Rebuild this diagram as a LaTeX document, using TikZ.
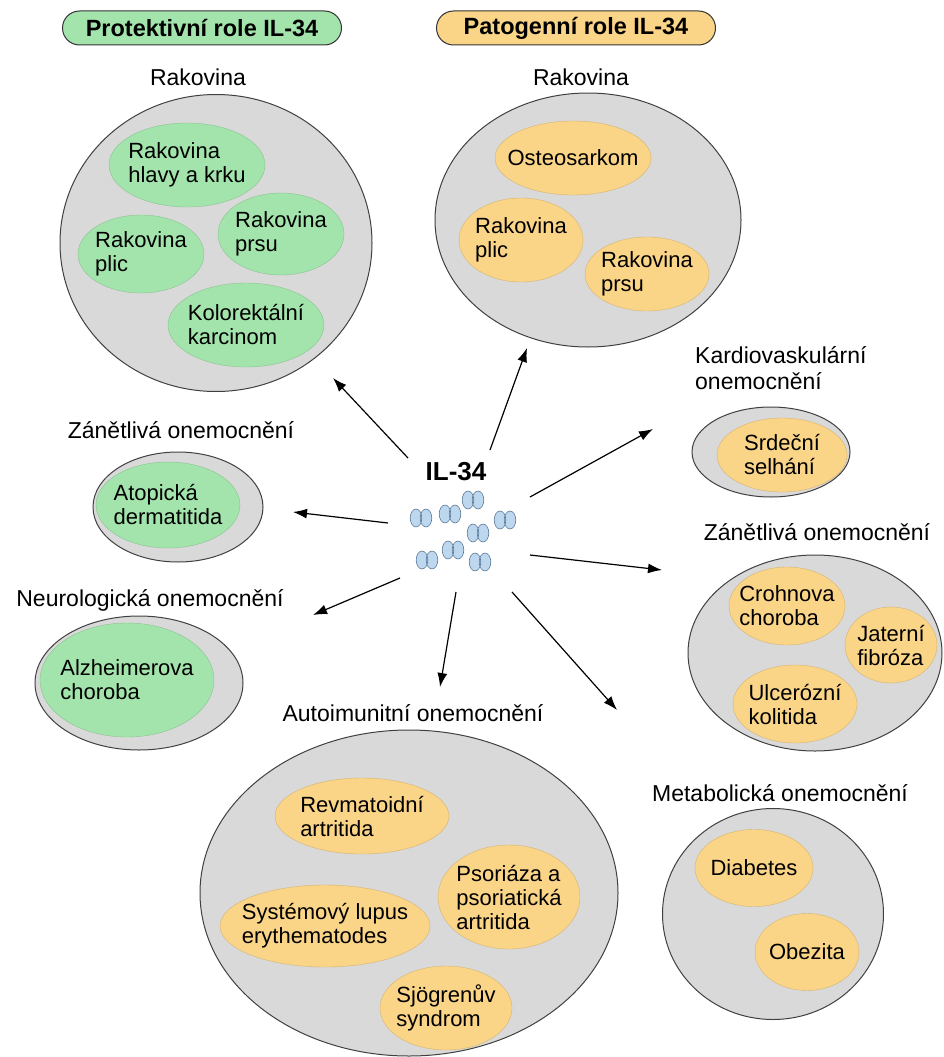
\documentclass[tikz,border=0pt]{standalone}
\usepackage{fontspec}
\setmainfont{Liberation Sans}
\usetikzlibrary{shapes.geometric,arrows.meta}

\definecolor{grayfill}{HTML}{D9D9D9}
\definecolor{protfill}{HTML}{A3E4AC}
\definecolor{patfill}{HTML}{FAD487}
\definecolor{molfill}{HTML}{BDD7EE}
\definecolor{moldraw}{HTML}{5A7896}

\newcommand{\lblfont}{\fontsize{23}{26}\selectfont}
\newcommand{\itemfont}{\fontsize{22}{24}\selectfont}

\tikzset{
  grp/.style={ellipse, draw=black!75, fill=grayfill, line width=1pt, inner sep=0pt},
  itemtxt/.style={font=\itemfont, align=left, inner sep=0pt},
  prot/.style={ellipse, fill=protfill, draw=protfill!85!black, line width=0.4pt, inner sep=0pt},
  pat/.style={ellipse, fill=patfill, draw=patfill!85!black, line width=0.4pt, inner sep=0pt},
  hdr/.style={rectangle, rounded corners=17pt, draw=black!80, line width=1pt, minimum width=279pt, minimum height=34pt, font=\bfseries\fontsize{23.5}{26}\selectfont},
  lbl/.style={font=\lblfont, align=left, inner sep=0pt},
  mol/.style={fill=molfill, draw=moldraw, line width=0.6pt},
  arr/.style={-{Latex[length=14pt,width=10pt]}, line width=1.2pt}
}

\begin{document}
\begin{tikzpicture}[x=1pt,y=-1pt]
        \useasboundingbox (0,0) rectangle (944,1057);
        % headers
        \node[hdr, fill=protfill] (protHead) at (202,28) {Protektivní role IL-34};
        \node[hdr, fill=patfill] (patHead) at (576,28) {Patogenní role IL-34};

        % protective side
        \node[lbl] (protCancerLbl) at (198,77) {Rakovina};
        \node[grp, minimum width=312pt, minimum height=297pt] (protCancer) at (216,243) {};
        \node[prot, minimum width=156pt, minimum height=84pt, label={[itemtxt]center:{Rakovina\\hlavy a krku}}] (headNeck) at (187,165) {};
        \node[prot, minimum width=126pt, minimum height=78pt, label={[itemtxt]center:{Rakovina\\plic}}] (protLung) at (141,254) {};
        \node[prot, minimum width=126pt, minimum height=82pt, label={[itemtxt]center:{Rakovina\\prsu}}] (protBreast) at (281,234) {};
        \node[prot, minimum width=156pt, minimum height=84pt, label={[itemtxt]center:{Kolorektální\\karcinom}}] (colorectal) at (246,325) {};

        \node[lbl] (protInflLbl) at (181,430) {Zánětlivá onemocnění};
        \node[grp, minimum width=170pt, minimum height=110pt] (protInfl) at (178,507) {};
        \node[prot, minimum width=144pt, minimum height=86pt, label={[itemtxt]center:{Atopická\\dermatitida}}] (atopic) at (168,505) {};

        \node[lbl] (neuroLbl) at (150,600) {Neurologická onemocnění};
        \node[grp, minimum width=208pt, minimum height=134pt] (neuro) at (139,683) {};
        \node[prot, minimum width=174pt, minimum height=114pt, label={[itemtxt]center:{Alzheimerova\\choroba}}] (alzheimer) at (127,680) {};

        % pathogenic side
        \node[lbl] (patCancerLbl) at (581,77) {Rakovina};
        \node[grp, minimum width=306pt, minimum height=254pt] (patCancer) at (588,220) {};
        \node[pat, minimum width=156pt, minimum height=74pt, label={[itemtxt]center:Osteosarkom}] (osteo) at (573,158) {};
        \node[pat, minimum width=124pt, minimum height=84pt, label={[itemtxt]center:{Rakovina\\plic}}] (patLung) at (521,240) {};
        \node[pat, minimum width=124pt, minimum height=74pt, label={[itemtxt]center:{Rakovina\\prsu}}] (patBreast) at (647,274) {};

        \node[lbl, anchor=west] (cardioLbl) at (695,368) {Kardiovaskulární\\onemocnění};
        \node[grp, minimum width=158pt, minimum height=90pt] (cardio) at (771,452) {};
        \node[pat, minimum width=130pt, minimum height=74pt, label={[itemtxt]center:{Srdeční\\selhání}}] (heartFail) at (782,455) {};

        \node[lbl] (patInflLbl) at (817,532) {Zánětlivá onemocnění};
        \node[grp, minimum width=254pt, minimum height=196pt] (patInfl) at (815,653) {};
        \node[pat, minimum width=116pt, minimum height=78pt, label={[itemtxt]center:{Crohnova\\choroba}}] (crohn) at (787,606) {};
        \node[pat, minimum width=92pt, minimum height=76pt, label={[itemtxt]center:{Jaterní\\fibróza}}] (liver) at (891,645) {};
        \node[pat, minimum width=124pt, minimum height=78pt, label={[itemtxt]center:{Ulcerózní\\kolitida}}] (colitis) at (795,704) {};

        \node[lbl] (metaLbl) at (780,793) {Metabolická onemocnění};
        \node[grp, minimum width=221pt, minimum height=211pt] (meta) at (773,914) {};
        \node[pat, minimum width=118pt, minimum height=77pt, label={[itemtxt]center:Diabetes}] (diabetes) at (754,868) {};
        \node[pat, minimum width=104pt, minimum height=77pt, label={[itemtxt]center:Obezita}] (obesity) at (807,952) {};

        \node[lbl] (autoLbl) at (413,713) {Autoimunitní onemocnění};
        \node[grp, minimum width=418pt, minimum height=326pt] (auto) at (409,893) {};
        \node[pat, minimum width=174pt, minimum height=76pt, label={[itemtxt]center:{Revmatoidní\\artritida}}] (rheuma) at (362,816) {};
        \node[pat, minimum width=142pt, minimum height=104pt, label={[itemtxt]center:{Psoriáza a\\psoriatická\\artritida}}] (psoriasis) at (509,897) {};
        \node[pat, minimum width=210pt, minimum height=82pt, label={[itemtxt]center:{Systémový lupus\\erythematodes}}] (lupus) at (325,926) {};
        \node[pat, minimum width=132pt, minimum height=84pt, label={[itemtxt]center:{Sjögrenův\\syndrom}}] (sjogren) at (446,1008) {};

        % IL-34 in the middle
        \node[font=\bfseries\fontsize{26}{30}\selectfont, inner sep=0pt] (il) at (456,472) {IL-34};
        \draw[mol] (468,500) ellipse (5.8pt and 9pt) (478,500) ellipse (5.8pt and 9pt);
        \draw[mol] (416,518) ellipse (5.8pt and 9pt) (426,518) ellipse (5.8pt and 9pt);
        \draw[mol] (445,514) ellipse (5.8pt and 9pt) (455,514) ellipse (5.8pt and 9pt);
        \draw[mol] (500,520) ellipse (5.8pt and 9pt) (510,520) ellipse (5.8pt and 9pt);
        \draw[mol] (473,533) ellipse (5.8pt and 9pt) (483,533) ellipse (5.8pt and 9pt);
        \draw[mol] (448,550) ellipse (5.8pt and 9pt) (458,550) ellipse (5.8pt and 9pt);
        \draw[mol] (422,560) ellipse (5.8pt and 9pt) (432,560) ellipse (5.8pt and 9pt);
        \draw[mol] (475,562) ellipse (5.8pt and 9pt) (485,562) ellipse (5.8pt and 9pt);

        % arrows
        \coordinate (fromProtCancer) at (408,458);
        \coordinate (toProtCancer) at (333,378);
        \coordinate (fromProtInfl) at (388,523);
        \coordinate (toProtInfl) at (293,512);
        \coordinate (fromNeuro) at (400,578);
        \coordinate (toNeuro) at (313,615);
        \coordinate (fromAuto) at (456,592);
        \coordinate (toAuto) at (440,687);
        \coordinate (fromMeta) at (512,592);
        \coordinate (toMeta) at (617,710);
        \coordinate (fromPatInfl) at (530,555);
        \coordinate (toPatInfl) at (662,570);
        \coordinate (fromCardio) at (530,497);
        \coordinate (toCardio) at (653,429);
        \coordinate (fromPatCancer) at (490,450);
        \coordinate (toPatCancer) at (527,348);
        \draw[arr] (fromProtCancer) -- (toProtCancer);
        \draw[arr] (fromProtInfl) -- (toProtInfl);
        \draw[arr] (fromNeuro) -- (toNeuro);
        \draw[arr] (fromAuto) -- (toAuto);
        \draw[arr] (fromMeta) -- (toMeta);
        \draw[arr] (fromPatInfl) -- (toPatInfl);
        \draw[arr] (fromCardio) -- (toCardio);
        \draw[arr] (fromPatCancer) -- (toPatCancer);
      \end{tikzpicture}
\end{document}
